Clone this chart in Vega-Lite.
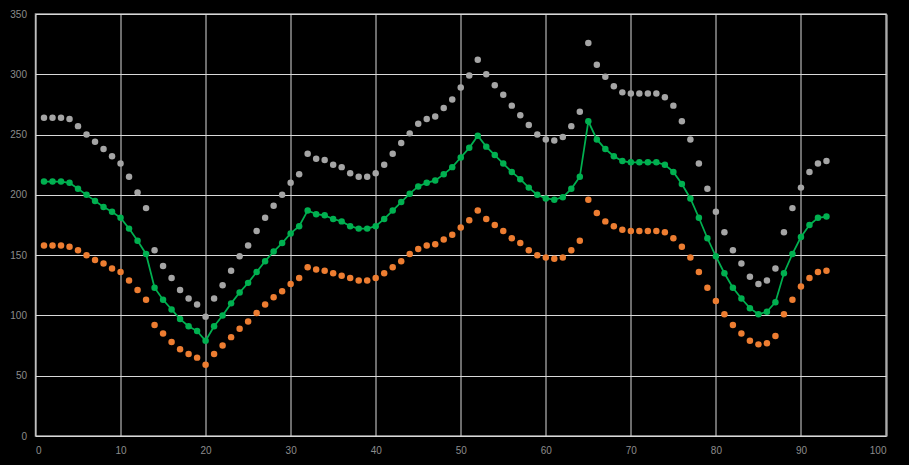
{
  "$schema": "https://vega.github.io/schema/vega-lite/v6.json",
  "width": 850.5,
  "height": 422,
  "autosize": {"type": "none"},
  "padding": {"left": 35.5, "top": 14, "right": 23, "bottom": 29},
  "background": "#000000",
  "config": {
    "view": {"stroke": "#a6a6a6", "strokeWidth": 1.5},
    "axis": {
      "grid": true, "gridColor": "#d9d9d9", "gridWidth": 1, "domain": false, "ticks": false,
      "labelColor": "#8c8c8c", "labelFont": "Liberation Sans", "labelFontSize": 10, "title": null
    }
  },
  "data": {"values": [
    {"x":1,"grey":264,"green":211,"orange":158},
    {"x":2,"grey":264,"green":211,"orange":158},
    {"x":3,"grey":264,"green":211,"orange":158},
    {"x":4,"grey":263,"green":210,"orange":157},
    {"x":5,"grey":257,"green":205,"orange":154},
    {"x":6,"grey":250,"green":200,"orange":150},
    {"x":7,"grey":244,"green":195,"orange":146},
    {"x":8,"grey":238,"green":190,"orange":143},
    {"x":9,"grey":232,"green":186,"orange":139},
    {"x":10,"grey":226,"green":181,"orange":136},
    {"x":11,"grey":215,"green":172,"orange":129},
    {"x":12,"grey":202,"green":162,"orange":121},
    {"x":13,"grey":189,"green":151,"orange":113},
    {"x":14,"grey":154,"green":123,"orange":92},
    {"x":15,"grey":141,"green":113,"orange":85},
    {"x":16,"grey":131,"green":105,"orange":78},
    {"x":17,"grey":121,"green":97,"orange":72},
    {"x":18,"grey":114,"green":91,"orange":68},
    {"x":19,"grey":109,"green":87,"orange":65},
    {"x":20,"grey":99,"green":79,"orange":59},
    {"x":21,"grey":114,"green":91,"orange":68},
    {"x":22,"grey":125,"green":100,"orange":75},
    {"x":23,"grey":137,"green":110,"orange":82},
    {"x":24,"grey":149,"green":119,"orange":89},
    {"x":25,"grey":158,"green":127,"orange":95},
    {"x":26,"grey":170,"green":136,"orange":102},
    {"x":27,"grey":181,"green":145,"orange":109},
    {"x":28,"grey":191,"green":153,"orange":115},
    {"x":29,"grey":200,"green":160,"orange":120},
    {"x":30,"grey":210,"green":168,"orange":126},
    {"x":31,"grey":217,"green":174,"orange":131},
    {"x":32,"grey":234,"green":187,"orange":140},
    {"x":33,"grey":230,"green":184,"orange":138},
    {"x":34,"grey":229,"green":183,"orange":137},
    {"x":35,"grey":225,"green":180,"orange":135},
    {"x":36,"grey":223,"green":178,"orange":133},
    {"x":37,"grey":218,"green":174,"orange":131},
    {"x":38,"grey":215,"green":172,"orange":129},
    {"x":39,"grey":215,"green":172,"orange":129},
    {"x":40,"grey":218,"green":174,"orange":131},
    {"x":41,"grey":225,"green":180,"orange":135},
    {"x":42,"grey":234,"green":187,"orange":140},
    {"x":43,"grey":243,"green":194,"orange":145},
    {"x":44,"grey":251,"green":201,"orange":151},
    {"x":45,"grey":259,"green":207,"orange":155},
    {"x":46,"grey":263,"green":210,"orange":158},
    {"x":47,"grey":265,"green":212,"orange":159},
    {"x":48,"grey":272,"green":217,"orange":163},
    {"x":49,"grey":279,"green":223,"orange":167},
    {"x":50,"grey":289,"green":231,"orange":173},
    {"x":51,"grey":299,"green":239,"orange":179},
    {"x":52,"grey":312,"green":249,"orange":187},
    {"x":53,"grey":300,"green":240,"orange":180},
    {"x":54,"grey":291,"green":233,"orange":175},
    {"x":55,"grey":283,"green":226,"orange":170},
    {"x":56,"grey":274,"green":219,"orange":164},
    {"x":57,"grey":266,"green":213,"orange":160},
    {"x":58,"grey":258,"green":206,"orange":154},
    {"x":59,"grey":250,"green":200,"orange":150},
    {"x":60,"grey":246,"green":197,"orange":148},
    {"x":61,"grey":245,"green":196,"orange":147},
    {"x":62,"grey":248,"green":198,"orange":148},
    {"x":63,"grey":257,"green":205,"orange":154},
    {"x":64,"grey":269,"green":215,"orange":162},
    {"x":65,"grey":326,"green":261,"orange":196},
    {"x":66,"grey":308,"green":246,"orange":185},
    {"x":67,"grey":298,"green":238,"orange":178},
    {"x":68,"grey":290,"green":232,"orange":174},
    {"x":69,"grey":285,"green":228,"orange":171},
    {"x":70,"grey":284,"green":227,"orange":170},
    {"x":71,"grey":284,"green":227,"orange":170},
    {"x":72,"grey":284,"green":227,"orange":170},
    {"x":73,"grey":284,"green":227,"orange":170},
    {"x":74,"grey":281,"green":225,"orange":169},
    {"x":75,"grey":274,"green":219,"orange":164},
    {"x":76,"grey":261,"green":209,"orange":157},
    {"x":77,"grey":246,"green":197,"orange":148},
    {"x":78,"grey":226,"green":181,"orange":136},
    {"x":79,"grey":205,"green":164,"orange":123},
    {"x":80,"grey":186,"green":149,"orange":112},
    {"x":81,"grey":169,"green":135,"orange":101},
    {"x":82,"grey":154,"green":123,"orange":92},
    {"x":83,"grey":143,"green":114,"orange":85},
    {"x":84,"grey":132,"green":106,"orange":79},
    {"x":85,"grey":126,"green":101,"orange":76},
    {"x":86,"grey":129,"green":103,"orange":77},
    {"x":87,"grey":139,"green":111,"orange":83},
    {"x":88,"grey":169,"green":135,"orange":101},
    {"x":89,"grey":189,"green":151,"orange":113},
    {"x":90,"grey":206,"green":165,"orange":124},
    {"x":91,"grey":219,"green":175,"orange":131},
    {"x":92,"grey":226,"green":181,"orange":136},
    {"x":93,"grey":228,"green":182,"orange":137}
  ]},
  "encoding": {
    "x": {"field": "x", "type": "quantitative", "scale": {"domain": [0, 100], "nice": false},
      "axis": {"values": [0,10,20,30,40,50,60,70,80,90,100], "labelPadding": 9}}
  },
  "layer": [
    {
      "mark": {"type": "circle", "color": "#a5a5a5", "opacity": 1, "size": 42},
      "encoding": {
        "y": {"field": "grey", "type": "quantitative", "scale": {"domain": [0, 350], "nice": false},
          "axis": {"values": [0,50,100,150,200,250,300,350], "labelPadding": 9}}
      }
    },
    {
      "mark": {"type": "circle", "color": "#ed7d31", "opacity": 1, "size": 42},
      "encoding": {"y": {"field": "orange", "type": "quantitative"}}
    },
    {
      "mark": {"type": "line", "color": "#00b050", "strokeWidth": 1.75},
      "encoding": {"y": {"field": "green", "type": "quantitative"}}
    },
    {
      "mark": {"type": "circle", "color": "#00b050", "opacity": 1, "size": 42},
      "encoding": {"y": {"field": "green", "type": "quantitative"}}
    }
  ]
}
